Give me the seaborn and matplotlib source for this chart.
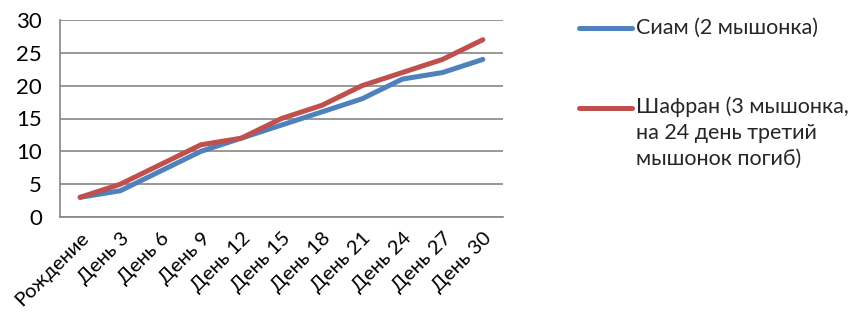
import matplotlib
matplotlib.use("Agg")
import matplotlib.pyplot as plt
import seaborn as sns
import pandas as pd
from matplotlib.lines import Line2D
from matplotlib.ticker import FixedLocator

categories = ["Рождение", "День 3", "День 6", "День 9", "День 12", "День 15",
              "День 18", "День 21", "День 24", "День 27", "День 30"]
siam = [3, 4, 7, 10, 12, 14, 16, 18, 21, 22, 24]
shafran = [3, 5, 8, 11, 12, 15, 17, 20, 22, 24, 27]
series_names = ["Сиам (2 мышонка)", "Шафран (3 мышонка,\nна 24 день третий\nмышонок погиб)"]
y_ticks = [0, 5, 10, 15, 20, 25, 30]

sns.set_theme(style="white")
plt.rcParams["font.family"] = ["Lato", "DejaVu Sans"]

df = pd.DataFrame({
    "cat": categories * 2,
    "value": siam + shafran,
    "series": [series_names[0]] * len(categories) + [series_names[1]] * len(categories),
})

colors = ["#4F81BD", "#C0504D"]

fig = plt.figure(figsize=(8.57, 3.2), dpi=100)
ax = fig.add_axes([60 / 857, 1 - 217 / 320, (503 - 60) / 857, (217 - 20) / 320])

sns.lineplot(data=df, x="cat", y="value", hue="series", palette=colors,
             linewidth=3.6, ax=ax, legend=False, sort=False)

ax.set_xlim(-0.5, len(categories) - 0.5)
ax.set_ylim(0, 30)
ax.set_yticks(y_ticks)
ax.set_xlabel("")
ax.set_ylabel("")
for s in ["top", "right"]:
    ax.spines[s].set_visible(False)
for s in ["left", "bottom"]:
    ax.spines[s].set_color("#868686")
    ax.spines[s].set_linewidth(1.2)
ax.yaxis.grid(True, color="#868686", linewidth=1.2)
ax.set_axisbelow(True)
ax.tick_params(axis="y", length=0, pad=13, labelsize=16, colors="black")
ax.tick_params(axis="x", which="major", length=0, pad=9, labelsize=14.5)
ax.xaxis.set_minor_locator(FixedLocator([i - 0.5 for i in range(len(categories) + 1)]))
ax.tick_params(axis="x", which="minor", length=5, width=1.2, color="#868686", direction="out")
ax.set_xticks(range(len(categories)))
ax.set_xticklabels(categories, rotation=45, ha="right", rotation_mode="anchor")
for lab in ax.get_xticklabels():
    lab.set_color("black")

# legend
leg_y = [1 - 28 / 320, 1 - 108 / 320]
for yy, c in zip(leg_y, colors):
    fig.add_artist(Line2D([579 / 857, 632 / 857], [yy, yy], color=c, linewidth=3.6,
                          transform=fig.transFigure, solid_capstyle="round"))
fig.text(636 / 857, leg_y[0], series_names[0], fontsize=15.5, va="center", ha="left")
fig.text(636 / 857, 1 - 96 / 320, series_names[1], fontsize=15.5, va="top", ha="left",
         linespacing=1.38)

fig.savefig("out.png", dpi=100)
